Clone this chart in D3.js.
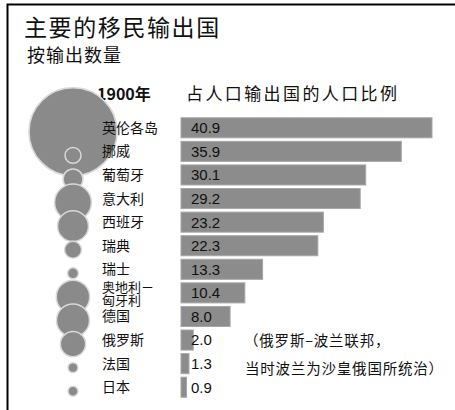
<!DOCTYPE html>
<html>
<head>
<meta charset="utf-8">
<script src="https://cdn.jsdelivr.net/npm/d3@7"></script>
<style>
  body { margin: 0; background: #fff; }
  svg { display: block; }
  text { font-family: "Noto Sans CJK SC", "Liberation Sans", sans-serif; fill: #111; }
</style>
</head>
<body>
<div id="chart"></div>
<script>
// countries, in drawing order
const countries = ["英伦各岛", "挪威", "葡萄牙", "意大利", "西班牙", "瑞典", "瑞士", "奥地利－匈牙利", "德国", "俄罗斯", "法国", "日本"];
// share of the home population that emigrated (%)
const share = [40.9, 35.9, 30.1, 29.2, 23.2, 22.3, 13.3, 10.4, 8.0, 2.0, 1.3, 0.9];
// number of emigrants (relative, read from circle areas)
const emigrants = [1940, 64, 100, 340, 240, 72, 30, 280, 272, 160, 25, 25];
const shareLabels = ["40.9", "35.9", "30.1", "29.2", "23.2", "22.3", "13.3", "10.4", "8.0", "2.0", "1.3", "0.9"];

const width = 455;
const height = 410;

const svg = d3.select("#chart")
  .append("svg")
  .attr("width", width)
  .attr("height", height);

// frame
svg.append("path")
  .attr("d", `M7.5,${height} V4.5 H${width}`)
  .attr("fill", "none")
  .attr("stroke", "#000")
  .attr("stroke-width", 2);

// titles
svg.append("text")
  .attr("x", 24).attr("y", 36)
  .style("font-size", "23px")
  .style("letter-spacing", "1.6px")
  .text("主要的移民输出国");

svg.append("text")
  .attr("x", 27).attr("y", 62)
  .style("font-size", "18px")
  .style("letter-spacing", "1px")
  .text("按输出数量");

svg.append("text")
  .attr("x", 97).attr("y", 100)
  .style("font-size", "16px")
  .style("font-weight", "600")
  .text("1900年");

svg.append("text")
  .attr("x", 186).attr("y", 100)
  .style("font-size", "17px")
  .style("letter-spacing", "2.4px")
  .text("占人口输出国的人口比例");

// scales
const y = d3.scaleBand()
  .domain(countries)
  .range([116, 399])
  .paddingInner(0.15)
  .paddingOuter(0.075);

const x = d3.scaleLinear()
  .domain([0, d3.max(share)])
  .range([181, 432]);

const r = d3.scaleSqrt()
  .domain([0, d3.max(emigrants)])
  .range([0, 44]);

const data = countries.map((c, i) => ({
  country: c, share: share[i], emigrants: emigrants[i], label: shareLabels[i]
}));

// circles
svg.selectAll("circle.em")
  .data(data)
  .join("circle")
  .attr("class", "em")
  .attr("cx", 73)
  .attr("cy", d => y(d.country) + y.bandwidth() / 2 + 4)
  .attr("r", d => r(d.emigrants))
  .attr("fill", "#8a8a8a")
  .attr("stroke", "#d9d9d9")
  .attr("stroke-width", 1.5);

// country labels
const labels = svg.selectAll("text.country")
  .data(data)
  .join("text")
  .attr("class", "country")
  .attr("x", 102)
  .attr("y", d => y(d.country) + y.bandwidth() / 2)
  .style("font-size", "14px");

labels.each(function(d) {
  const t = d3.select(this);
  if (d.country.includes("－")) {
    const parts = ["奥地利－", "匈牙利"];
    t.style("font-size", "13px")
      .selectAll("tspan")
      .data(parts)
      .join("tspan")
      .attr("x", 102)
      .attr("dy", (p, i) => i === 0 ? "-0.1em" : "1em")
      .text(p => p);
  } else {
    t.attr("dy", "0.36em").text(d.country);
  }
});

// bars
svg.selectAll("rect.bar")
  .data(data)
  .join("rect")
  .attr("class", "bar")
  .attr("x", x(0))
  .attr("y", d => y(d.country))
  .attr("width", d => x(d.share) - x(0))
  .attr("height", y.bandwidth())
  .attr("fill", "#8c8c8c")
  .attr("stroke", "#a6a6a6")
  .attr("stroke-width", 1);

// value labels
svg.selectAll("text.val")
  .data(data)
  .join("text")
  .attr("class", "val")
  .attr("x", 191)
  .attr("y", d => y(d.country) + y.bandwidth() / 2)
  .attr("dy", "0.36em")
  .style("font-family", "'Liberation Sans', Arial, sans-serif")
  .style("font-size", "15px")
  .text(d => d.label);

// note on Russia
svg.append("text")
  .attr("x", 244).attr("y", 346)
  .style("font-size", "14.5px")
  .style("letter-spacing", "0.8px")
  .text("（俄罗斯–波兰联邦，");

svg.append("text")
  .attr("x", 245).attr("y", 374)
  .style("font-size", "14.5px")
  .style("letter-spacing", "0.8px")
  .text("当时波兰为沙皇俄国所统治）");
</script>
</body>
</html>
